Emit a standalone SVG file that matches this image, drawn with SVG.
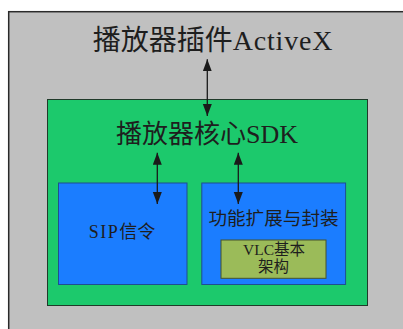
<svg xmlns="http://www.w3.org/2000/svg" width="403" height="329" viewBox="0 0 403 329">
<style>
text { font-family: "Liberation Serif", "Noto Sans CJK SC", serif; fill: #1e1e1e; text-anchor: middle; }
.conn line { stroke: #1a1a1a; stroke-width: 1.3; marker-start: url(#ah); marker-end: url(#ah); }
</style>
<defs>
<marker id="ah" markerUnits="userSpaceOnUse" markerWidth="12" markerHeight="10" refX="12" refY="4.5" orient="auto-start-reverse">
<path d="M0,0 L12,4.5 L0,9 z" fill="#1a1a1a"/>
</marker>
</defs>
<rect x="0" y="0" width="403" height="329" fill="#ffffff"/>
<g id="activex">
<rect x="8.7" y="11.7" width="400" height="330" fill="#c0c0c0" stroke="#2a2a2a" stroke-width="1.5"/>
<text x="213" y="50" font-size="28">播放器插件<tspan letter-spacing="0.8">ActiveX</tspan></text>
</g>
<g id="sdk">
<rect x="47.5" y="99.5" width="320" height="206" fill="#1cc96c" stroke="#203a2a" stroke-width="1"/>
<text x="207" y="143" font-size="26">播放器核心SDK</text>
</g>
<g id="sip">
<rect x="58.5" y="183" width="128.5" height="101.5" fill="#1b7dff" stroke="#1f4f8f" stroke-width="1"/>
<text x="122" y="238" font-size="18"><tspan letter-spacing="1.5">SIP</tspan>信令</text>
</g>
<g id="ext">
<rect x="201.8" y="183" width="143.8" height="101.5" fill="#1b7dff" stroke="#1f4f8f" stroke-width="1"/>
<text x="273.5" y="225" font-size="18.6">功能扩展与封装</text>
</g>
<g id="vlc">
<rect x="221" y="240" width="105" height="38.3" fill="#9bbb59" stroke="#46532c" stroke-width="1"/>
<text x="274" y="254.5" font-size="15.5">VLC基本</text>
<text x="273.5" y="272" font-size="15.5">架构</text>
</g>
<g class="conn" id="connectors">
<line x1="207.3" y1="59.3" x2="207.3" y2="116"/>
<line x1="157.3" y1="152.7" x2="157.3" y2="204"/>
<line x1="238.3" y1="152.7" x2="238.3" y2="204"/>
</g>
</svg>
